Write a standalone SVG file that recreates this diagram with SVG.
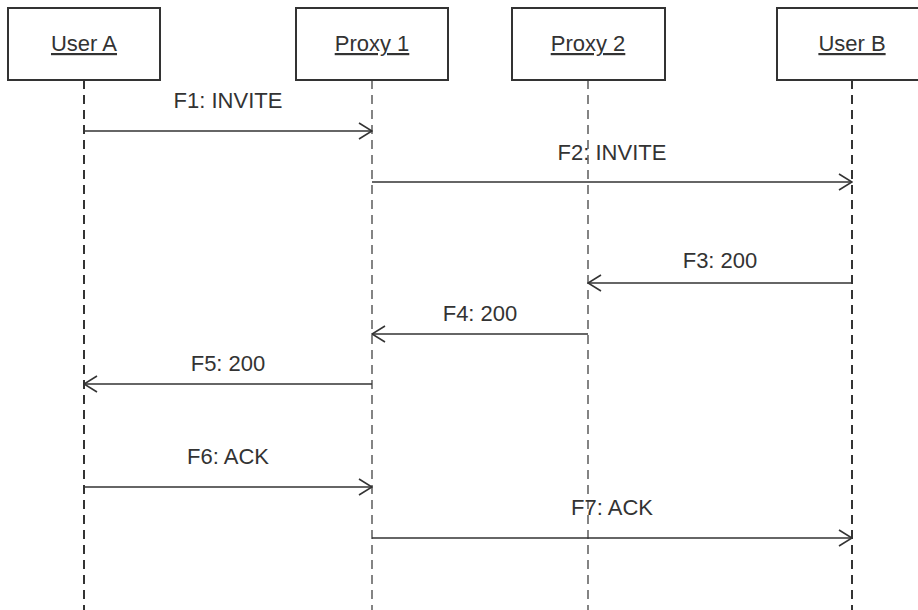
<svg xmlns="http://www.w3.org/2000/svg" width="918" height="610" viewBox="0 0 918 610">
<defs>
<style>
.box{fill:#fff;stroke:#333;stroke-width:2}
.title{font-family:"Liberation Sans",Arial,sans-serif;font-size:22px;fill:#333;text-anchor:middle;text-decoration:underline}
.life{stroke:#333;fill:none;stroke-dasharray:9 6}
.lu{stroke-width:2}
.lp{stroke-width:1.2}
.msg{stroke:#333;stroke-width:1.6;fill:none;marker-end:url(#arr)}
.lbl{font-family:"Liberation Sans",Arial,sans-serif;font-size:22px;fill:#333;text-anchor:middle}
</style>
<marker id="arr" markerUnits="userSpaceOnUse" viewBox="-15 -10 16 20" markerWidth="16" markerHeight="20" refX="0" refY="0" orient="auto">
<path d="M-13,-8 L0,0 L-13,8" fill="none" stroke="#333" stroke-width="1.6"/>
</marker>
</defs>
<g id="lifelines">
<line class="life lu" x1="84" y1="80" x2="84" y2="610"/>
<line class="life lp" x1="372" y1="80" x2="372" y2="610"/>
<line class="life lp" x1="588" y1="80" x2="588" y2="610"/>
<line class="life lu" x1="852" y1="80" x2="852" y2="610"/>
</g>
<g id="userA"><rect class="box" x="8" y="8" width="152" height="72"/><text class="title" x="84" y="51">User A</text></g>
<g id="proxy1"><rect class="box" x="296" y="8" width="152" height="72"/><text class="title" x="372" y="51">Proxy 1</text></g>
<g id="proxy2"><rect class="box" x="512" y="8" width="153" height="72"/><text class="title" x="588" y="51">Proxy 2</text></g>
<g id="userB"><rect class="box" x="777" y="8" width="152" height="72"/><text class="title" x="852" y="51">User B</text></g>
<g id="connectors">
<line class="msg" x1="84" y1="131" x2="372" y2="131"/>
<text class="lbl" x="228" y="108">F1: INVITE</text>
<line class="msg" x1="372" y1="182" x2="852" y2="182"/>
<text class="lbl" x="612" y="160">F2: INVITE</text>
<line class="msg" x1="852" y1="283" x2="588" y2="283"/>
<text class="lbl" x="720" y="268">F3: 200</text>
<line class="msg" x1="588" y1="334" x2="372" y2="334"/>
<text class="lbl" x="480" y="321">F4: 200</text>
<line class="msg" x1="372" y1="384" x2="84" y2="384"/>
<text class="lbl" x="228" y="371">F5: 200</text>
<line class="msg" x1="84" y1="487" x2="372" y2="487"/>
<text class="lbl" x="228" y="464">F6: ACK</text>
<line class="msg" x1="372" y1="538" x2="852" y2="538"/>
<text class="lbl" x="612" y="515">F7: ACK</text>
</g>
</svg>
